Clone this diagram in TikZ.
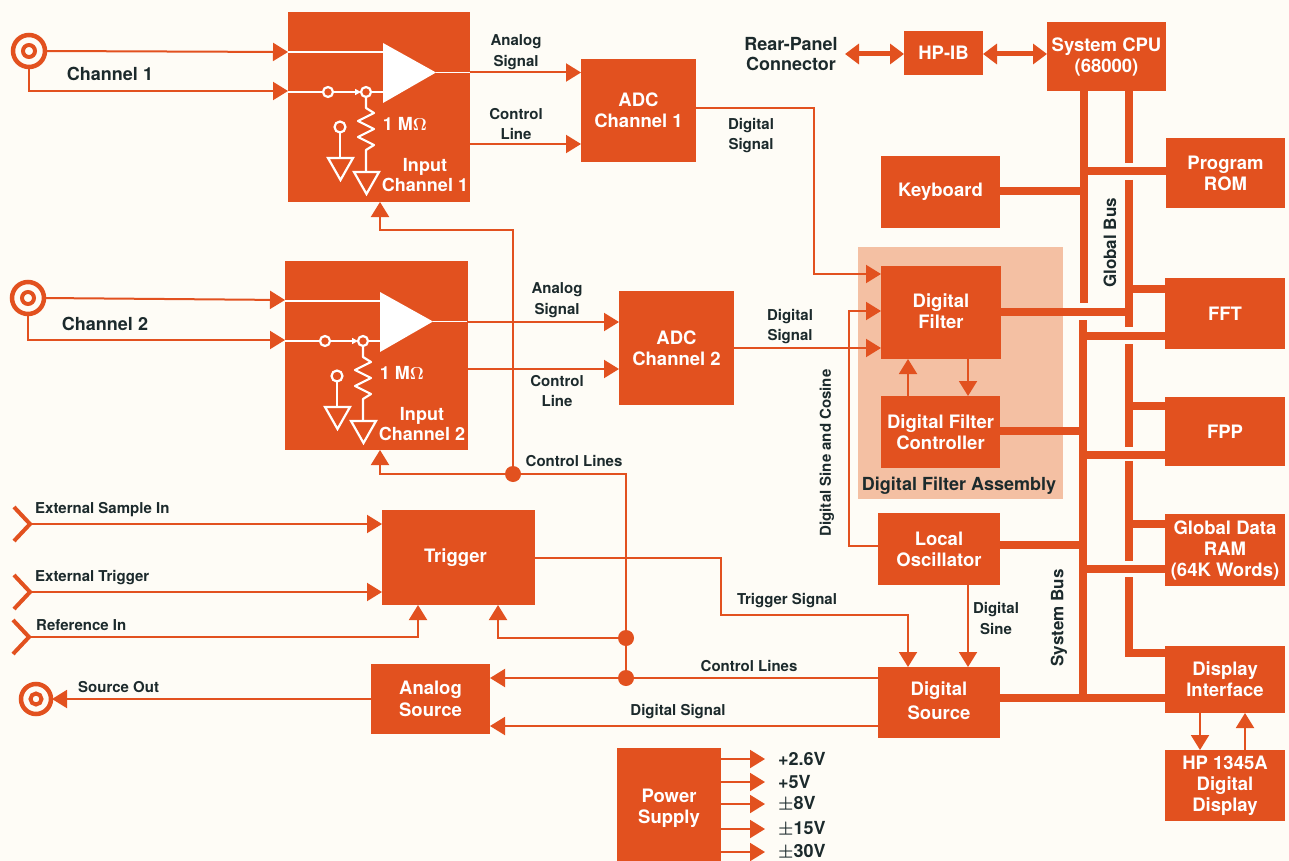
\documentclass[tikz,border=0pt]{standalone}
\usepackage{fontspec}
\setmainfont{TeX Gyre Heros}
\usetikzlibrary{arrows.meta,calc}
\definecolor{hporange}{HTML}{E2511F}
\definecolor{hppale}{HTML}{F4C0A3}
\definecolor{hpcream}{HTML}{FEFCF6}
\definecolor{hpink}{HTML}{1C2A2C}
\tikzset{
  x=1pt,y=-1pt,
  block/.style={fill=hporange,draw=none,inner sep=0pt,outer sep=0pt,text=white,align=center,
    font=\fontsize{18.5}{21}\selectfont\bfseries},
  lab/.style={text=hpink,inner sep=0pt,align=center,font=\fontsize{15}{20.5}\selectfont\bfseries},
  biglab/.style={text=hpink,inner sep=0pt,align=center,font=\fontsize{18}{20.5}\selectfont\bfseries},
  buslab/.style={text=hpink,inner sep=0pt,align=center,font=\fontsize{17}{20.5}\selectfont\bfseries},
  inlab/.style={text=white,inner sep=0pt,align=center,font=\fontsize{18}{20.5}\selectfont\bfseries},
  sig/.style={draw=hporange,line width=2pt},
  sigarr/.style={sig,-{Triangle[length=15pt,width=18pt]}},
  bus/.style={draw=hporange,line width=7.5pt},
  fat/.style={draw=hporange,line width=5pt,{Triangle[length=14pt,width=20pt]}-{Triangle[length=14pt,width=20pt]}},
  dotnode/.style={circle,fill=hporange,minimum size=16pt,inner sep=0pt,outer sep=0pt},
  wline/.style={draw=white,line width=2.2pt},
  wthin/.style={draw=white,line width=1.7pt},
  coax/.style={draw=hporange,line width=4.5pt,fill=hpcream},
  coaxin/.style={draw=hporange,line width=4pt,fill=hpcream}
}
\newcommand{\bx}[6]{%
  \pgfmathsetmacro{\bxw}{#4-#2}\pgfmathsetmacro{\bxh}{#5-#3}%
  \pgfmathsetmacro{\bxcx}{(#2+#4)/2}\pgfmathsetmacro{\bxcy}{(#3+#5)/2}%
  \node[block,minimum width=\bxw pt,minimum height=\bxh pt] (#1) at (\bxcx,\bxcy) {#6};}
% circuit drawn inside an input box (coordinates of channel 1)
\newcommand{\inner}[4]{%
  \begin{scope}[shift={(#1,#2)}]
    \draw[wthin] (288,52) -- (383,52);
    \draw[wthin] (288,92) -- (323,92);
    \draw[wthin,-{Triangle[length=6pt,width=6pt]}] (333,92) -- (361,92);
    \draw[wthin] (371,92) -- (383,92);
    \fill[white] (383,43) -- (436,72.5) -- (383,103) -- cycle;
    \draw[wthin] (436,72.5) -- (470,72.5);
    \draw[wline,fill=hporange] (328,92) circle (5);
    \draw[wline,fill=hporange] (366,92) circle (5);
    \draw[wline,line join=round] (366,97) -- (366,108) -- (374,113) -- (358,121) -- (374,129) -- (358,137) -- (374,145) -- (366,150) -- (366,172);
    \draw[wline,line join=miter] (354,172) -- (379,172) -- (366.5,194) -- cycle;
    \draw[wline,fill=hporange] (340,127) circle (5.5);
    \draw[wline] (340,132.5) -- (340,158);
    \draw[wline,line join=miter] (328,158) -- (353,158) -- (340.5,180) -- cycle;
    \node[inlab] (#3ohm) at (405,123.5) {1 M$\boldsymbol{\Omega}$};
    \node[inlab] (#3name) at (425,175) {Input\\Channel #4};
  \end{scope}}
\usepackage{amsmath}
\begin{document}
\begin{tikzpicture}
\useasboundingbox (0,0) rectangle (1289,861);
\fill[hpcream] (0,0) rectangle (1289,861);
\fill[hppale] (858,247) rectangle (1063,499);

% blocks
\bx{in1}{288}{12}{470}{202}{}
\bx{in2}{285}{261}{468}{450}{}
\bx{adc1}{581}{59}{696}{162}{ADC\\Channel 1}
\bx{adc2}{619}{291}{734}{405}{ADC\\Channel 2}
\bx{hpib}{904}{31}{983}{75}{HP-IB}
\bx{cpu}{1047}{22}{1166}{91}{System CPU\\(68000)}
\bx{rom}{1166}{138}{1285}{208}{Program\\ROM}
\bx{kbd}{881}{156}{1000}{228}{Keyboard}
\bx{dfilt}{881}{266}{1001}{359}{\raisebox{2pt}{\shortstack{Digital\\Filter}}}
\bx{dfc}{881}{396}{1000}{468}{\raisebox{-1pt}{\shortstack{Digital Filter\\Controller}}}
\bx{fft}{1165}{278}{1285}{349}{FFT}
\bx{fpp}{1165}{397}{1285}{466}{FPP}
\bx{ram}{1165}{514}{1285}{586}{Global Data\\RAM\\(64K Words)}
\bx{disp}{1165}{646}{1285}{713}{Display\\Interface}
\bx{hp}{1165}{750}{1285}{821}{HP 1345A\\Digital\\Display}
\bx{lo}{878}{513}{1000}{585}{Local\\Oscillator}
\bx{dsrc}{878}{667}{1000}{738}{\raisebox{4.5pt}{\shortstack{Digital\\[3pt]Source}}}
\bx{trig}{382}{510}{535}{605}{\raisebox{-1pt}{Trigger\hspace*{6pt}}}
\bx{asrc}{371}{664}{490}{734}{\raisebox{-2pt}{\shortstack{Analog\\[1pt]Source}}}
\bx{psu}{617}{748}{721}{861}{\raisebox{-18.5pt}[0pt][0pt]{\shortstack{Power\\[4pt]Supply}}}

\inner{0}{0}{a}{1}
\inner{-3}{249}{b}{2}

% connectors: buses
\coordinate (gA) at (1084,303);
\coordinate (sA) at (1083,320);
\coordinate (sB) at (1083,701.5);
\draw[bus] (1084,0 |- cpu.south) -- (gA);
\draw[bus] (sA) -- (sB);
\draw[bus] (1129,0 |- cpu.south) -- (1129,163);
\draw[bus] (1129,180) -- (1129,327);
\draw[bus] (1129,344) -- (1129,447);
\draw[bus] (1129,461) -- (1129,561);
\draw[bus] (1129,577) -- (1129,653) -- (disp.west |- 0,653);
\draw[bus] (rom.west |- 0,171) -- (1084,171);
\draw[bus] (kbd.east |- 0,191) -- (1084,191);
\draw[bus] (fft.west |- 0,289) -- (1129,289);
\draw[bus] (dfilt.east |- 0,312) -- (1129,312);
\draw[bus] (fft.west |- 0,336) -- (1083,336);
\draw[bus] (fpp.west |- 0,406) -- (1129,406);
\draw[bus] (dfc.east |- 0,431) -- (1083,431);
\draw[bus] (fpp.west |- 0,455) -- (1083,455);
\draw[bus] (ram.west |- 0,524) -- (1129,524);
\draw[bus] (ram.west |- 0,569) -- (1083,569);
\draw[bus] (lo.east |- 0,545) -- (1083,545);
\draw[bus] (dsrc.east |- 0,698) -- (disp.west |- 0,698);

% HP-IB
\node[biglab] (rear) at (791,54) {Rear-Panel\\Connector};
\draw[fat] (845,54) -- (hpib.west |- 0,54);
\draw[fat] (hpib.east |- 0,54) -- (cpu.west |- 0,54);

% channel 1 and 2 inputs
\draw[coax] (29,51) circle (16);
\draw[coaxin] (29,51) circle (6);
\coordinate (c1) at (45,51);
\coordinate (c1b) at (29,67);
\draw[sigarr] (c1) -- (in1.west |- 0,52);
\draw[sigarr] (c1b) |- (in1.west |- 0,91);
\node[biglab] (ch1) at (110,74) {Channel 1};
\draw[coax] (28,298) circle (16);
\draw[coaxin] (28,298) circle (6);
\coordinate (c2) at (44,298);
\coordinate (c2b) at (28,314);
\draw[sigarr] (c2) -- (in2.west |- 0,300);
\draw[sigarr] (c2b) |- (in2.west |- 0,340);
\node[biglab] (ch2) at (105,324) {Channel 2};

% to ADCs
\draw[sigarr] (in1.east |- 0,72.5) -- (adc1.west |- 0,72.5);
\draw[sigarr] (in1.east |- 0,144) -- (adc1.west |- 0,144);
\draw[sigarr] (in2.east |- 0,322) -- (adc2.west |- 0,322);
\draw[sigarr] (in2.east |- 0,369) -- (adc2.west |- 0,369);
\node[lab] (l1) at (516,52) {Analog\\Signal};
\node[lab] (l2) at (516,124) {Control\\Line};
\node[lab] (l3) at (557,300) {Analog\\Signal};
\node[lab] (l4) at (557,391) {Control\\Line};

% to digital filter
\draw[sigarr] (adc1.east |- 0,108) -- (814,108) |- (dfilt.west |- 0,274);
\draw[sigarr] (adc2.east |- 0,348) -- (dfilt.west |- 0,348);
\draw[sigarr] (lo.west |- 0,546) -- (849,546) |- (dfilt.west |- 0,311);
\node[lab] (l5) at (751,135.5) {Digital\\Signal};
\node[lab] (l6) at (790,326.5) {Digital\\Signal};
\node[lab,rotate=90] (l7) at (827,453) {Digital Sine and Cosine};
\draw[sigarr] (dfc.north -| 908,0) -- (dfilt.south -| 908,0);
\draw[sigarr] (dfilt.south -| 968,0) -- (dfc.north -| 968,0);
\node[biglab] (l8) at (959,486) {Digital Filter Assembly};

% control lines
\node[dotnode] (d1) at (513,474) {};
\node[dotnode] (d2) at (626,638) {};
\node[dotnode] (d3) at (626,678) {};
\draw[sigarr] (d1) -- (513,230) -| (in1.south -| 380,0);
\draw[sigarr] (d1) -| (in2.south -| 380,0);
\draw[sig] (d1) -| (d2);
\draw[sig] (d2) -- (d3);
\draw[sigarr] (d2) -| (trig.south -| 498,0);
\node[lab] (l9) at (574,461) {Control Lines};
\draw[sig] (dsrc.west |- d3) -- (d3);
\draw[sigarr] (d3) -- (asrc.east |- d3);
\node[lab] (l10) at (749,666) {Control Lines};
\draw[sigarr] (dsrc.west |- 0,726) -- (asrc.east |- 0,726);
\node[lab] (l11) at (678,712) {Digital Signal};

% trigger inputs
\coordinate (x1) at (30,524);
\coordinate (x2) at (30,592);
\coordinate (x3) at (29,637);
\draw[sig,line width=4pt,line join=miter] (14,507) -- (x1) -- (14,541);
\draw[sig,line width=4pt,line join=miter] (14,575) -- (x2) -- (14,609);
\draw[sig,line width=4pt,line join=miter] (13,620) -- (x3) -- (13,654);
\draw[sigarr] (x1) -- (trig.west |- x1);
\draw[sigarr] (x2) -- (trig.west |- x2);
\draw[sigarr] (x3) -| (trig.south -| 418,0);
\node[lab,anchor=west] (l12) at (35,510) {External Sample In};
\node[lab,anchor=west] (l13) at (35,578) {External Trigger};
\node[lab,anchor=west] (l14) at (36,625) {Reference In};

% trigger out
\draw[sigarr] (trig.east |- 0,558) -- (721,558) -- (721,615) -| (dsrc.north -| 908,0);
\node[lab] (l15) at (787,601) {Trigger Signal};
\draw[sigarr] (lo.south -| 968,0) -- (dsrc.north -| 968,0);
\node[lab] (l16) at (996,618.5) {Digital\\Sine};

% source out
\draw[coax] (36,699) circle (15);
\draw[coaxin] (36,699) circle (5.5);
\coordinate (so) at (52,699);
\draw[sigarr] (asrc.west |- so) -- (so);
\node[lab,anchor=west] (l17) at (78,687) {Source Out};

% bus labels
\node[buslab,rotate=90] (gb) at (1110,243) {Global Bus};
\node[buslab,rotate=90] (sb) at (1059,618) {System Bus};

% display
\draw[sigarr] (disp.south -| 1200,0) -- (hp.north -| 1200,0);
\draw[sigarr] (hp.north -| 1245,0) -- (disp.south -| 1245,0);

% power supply
\foreach \yy/\tt/\nn in {759/+2.6V/a,782/+5V/b,804/$\boldsymbol{\pm}$8V/c,829/$\boldsymbol{\pm}$15V/d,852/$\boldsymbol{\pm}$30V/e}{
  \coordinate (pe\nn) at (765,\yy);
  \draw[sigarr] (psu.east |- pe\nn) -- (pe\nn);
  \node[biglab,anchor=west] (pv\nn) at (778,\yy) {\tt};
}
\end{tikzpicture}
\end{document}
